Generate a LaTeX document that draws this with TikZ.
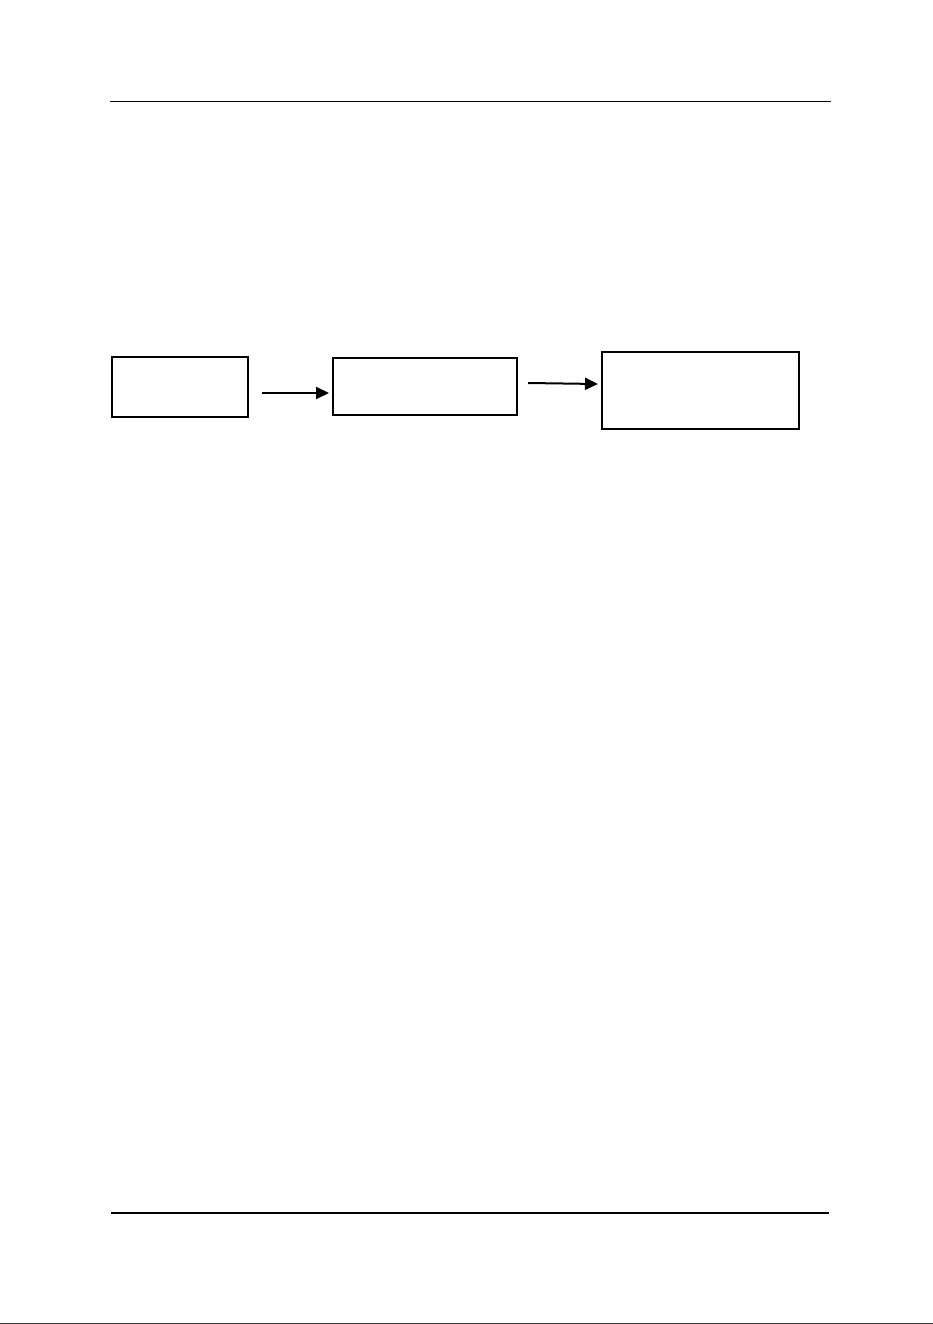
\documentclass[tikz,border=0pt]{standalone}
\usetikzlibrary{arrows.meta}
\begin{document}
\begin{tikzpicture}[x=1pt,y=-1pt,
  blk/.style={draw=black,line width=2pt,inner sep=0pt},
  conn/.style={line width=2pt,-{Triangle[length=13pt,width=12pt]}},
  rule/.style={line width=1.6pt}]
\useasboundingbox (0,0) rectangle (933,1324);
\fill[white] (0,0) rectangle (933,1324);
% header and footer rules
\coordinate (h1) at (110,101.5);
\coordinate (h2) at (831,101.5);
\draw[rule] (h1) -- (h2);
\coordinate (f1) at (111,1213);
\coordinate (f2) at (829,1213);
\draw[rule] (f1) -- (f2);
\coordinate (e1) at (0,1323.5);
\coordinate (e2) at (933,1323.5);
\draw[line width=0.8pt,black!80] (e1) -- (e2);
% boxes
\node[blk,minimum width=136pt,minimum height=60pt] (b1) at (180,387) {};
\node[blk,minimum width=184pt,minimum height=57pt] (b2) at (425,386.5) {};
\node[blk,minimum width=197pt,minimum height=77pt] (b3) at (700.5,390.5) {};
% arrows
\coordinate (a1s) at (262,393);
\coordinate (a1e) at (b2.west |- a1s);
\draw[conn] (a1s) -- ([xshift=-3pt]a1e);
\coordinate (a2s) at (528,383);
\coordinate (a2e) at ([yshift=-1pt]b3.west |- a2s);
\draw[conn] (a2s) -- ([xshift=-3pt]a2e);
\end{tikzpicture}
\end{document}
